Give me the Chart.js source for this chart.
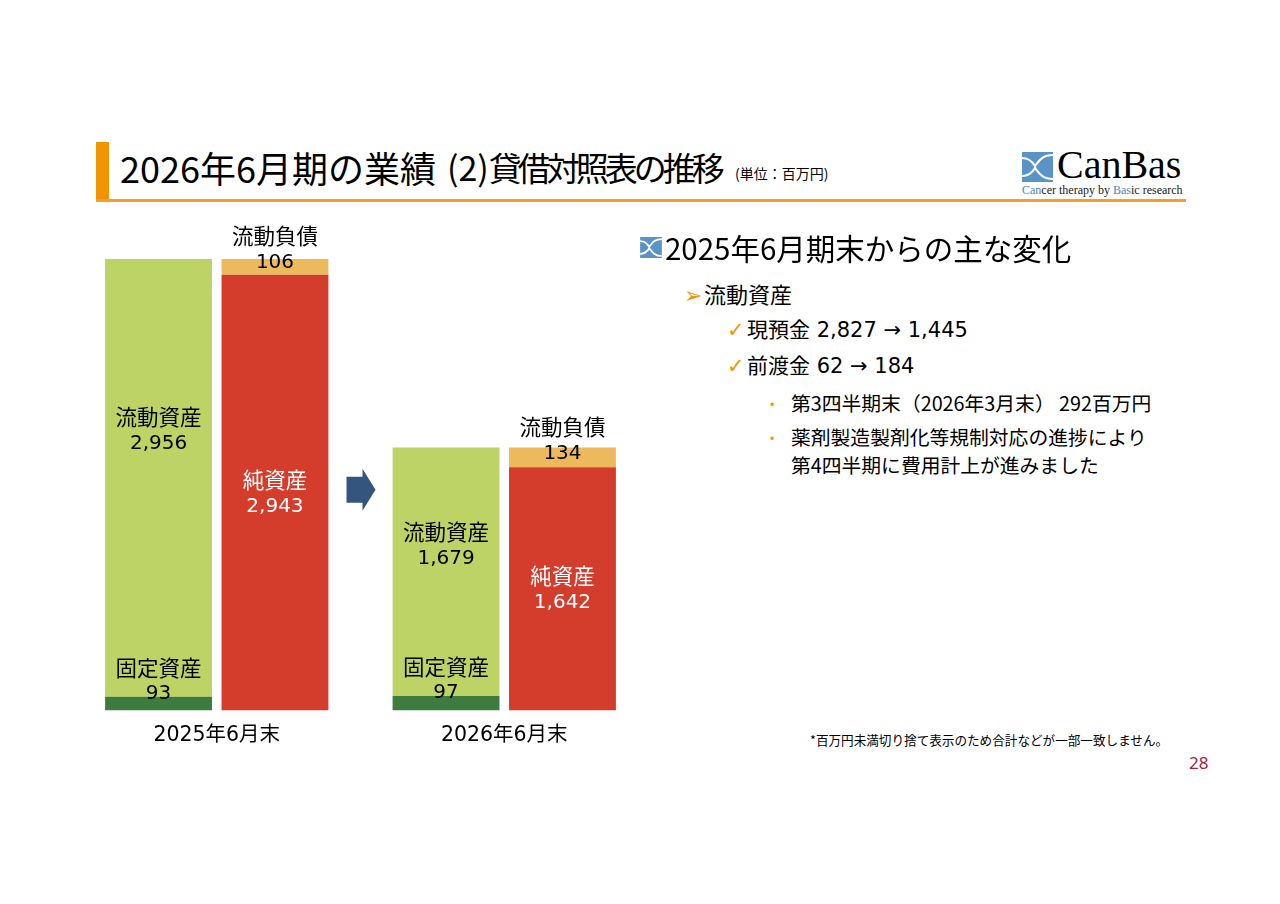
<!DOCTYPE html>
<html lang="ja">
<head>
<meta charset="utf-8">
<title>貸借対照表の推移</title>
<script src="https://cdn.jsdelivr.net/npm/chart.js@4.4.1/dist/chart.umd.min.js"></script>
<style>
  html, body { margin: 0; padding: 0; background: #fff; }
  body { width: 1280px; height: 904px; position: relative; overflow: hidden;
         font-family: "Noto Sans CJK JP", "DejaVu Sans", sans-serif; color: #000; }
  .abs { position: absolute; white-space: nowrap; }
  #titleBar { left: 96px; top: 142px; width: 13px; height: 59px; background: #f29400; }
  #titleLine { left: 96px; top: 199px; width: 1090px; height: 3px; background: #f0a030; }
  .ttl { top: 139px; font-size: 35px; line-height: 56px; }
  #title1 { left: 120px; font-size: 36px; letter-spacing: 0px; }
  #title2 { left: 447px; font-size: 34px; }
  #title2 .kj { font-size: 33px; letter-spacing: -4px; }
  #unit { left: 735px; top: 163px; font-size: 14px; line-height: 20px; }
  #logoText { left: 1057px; top: 143px; font-family: "Liberation Serif", "DejaVu Serif", serif; font-size: 40px; line-height: 44px; }
  #logoSub { left: 1022px; top: 183px; font-family: "Liberation Serif", "DejaVu Serif", serif; font-size: 12px; line-height: 14px; color: #222; }
  #logoSub b { font-weight: normal; color: #4a86c0; }
  #chartBox { left: 0px; top: 200px; width: 680px; height: 580px; }
  .txt { font-family: "DejaVu Sans", "Noto Sans CJK JP", sans-serif; }
  #h2 { left: 665px; top: 226px; font-size: 29.5px; line-height: 42px; font-family: "Noto Sans CJK JP", sans-serif; }
  #l1 { left: 684px; top: 277px; font-size: 22px; line-height: 32px; font-family: "Noto Sans CJK JP", sans-serif; }
  #l2 { left: 727px; top: 315px; font-size: 21px; line-height: 30px; }
  #l3 { left: 727px; top: 351px; font-size: 21px; line-height: 30px; }
  #l4 { left: 770px; top: 389px; font-size: 19.8px; line-height: 28px; font-family: "Noto Sans CJK JP", sans-serif; }
  #l5 { left: 770px; top: 423px; font-size: 19.8px; line-height: 28px; font-family: "Noto Sans CJK JP", sans-serif; }
  .mk { color: #f29400; display: inline-block; width: 20px; }
  .dot { color: #f29400; display: inline-block; width: 21px; font-size: 13px; vertical-align: 3px; }
  #note { left: 810px; top: 731px; font-size: 12.6px; line-height: 18px; font-family: "Noto Sans CJK JP", sans-serif; }
  #page { left: 1189px; top: 751px; font-size: 17px; line-height: 24px; color: #a3213d; font-family: "Noto Sans", sans-serif; }
</style>
</head>
<body>
<div class="abs" id="titleBar"></div>
<div class="abs" id="titleLine"></div>
<div class="abs ttl" id="title1">2026年6月期の業績</div>
<div class="abs ttl" id="title2">(2)<span class="kj">貸借対照表の推移</span></div>
<div class="abs" id="unit">(単位：百万円)</div>

<svg class="abs" style="left:1022px;top:152px" width="31" height="30" viewBox="0 0 31 30">
  <rect x="0" y="0" width="31" height="30" fill="#5a93c6"/>
  <path d="M31 3 C20 3 17 9 13 14 C10 9 6 6 0 6" stroke="#fff" stroke-width="2.2" fill="none"/>
  <path d="M31 27 C20 27 17 21 13 16 C10 21 6 24 0 24" stroke="#fff" stroke-width="2.2" fill="none"/>
</svg>
<div class="abs" id="logoText">CanBas</div>
<div class="abs" id="logoSub"><b>Can</b>cer therapy by <b>Bas</b>ic research</div>

<div class="abs" id="chartBox"><canvas id="bsChart"></canvas></div>

<svg class="abs" style="left:640px;top:237px" width="22" height="21" viewBox="0 0 31 30">
  <rect x="0" y="0" width="31" height="30" fill="#5a93c6"/>
  <path d="M31 3 C20 3 17 9 13 14 C10 9 6 6 0 6" stroke="#fff" stroke-width="2.6" fill="none"/>
  <path d="M31 27 C20 27 17 21 13 16 C10 21 6 24 0 24" stroke="#fff" stroke-width="2.6" fill="none"/>
</svg>
<div class="abs" id="h2">2025年6月期末からの主な変化</div>
<div class="abs" id="l1"><span class="mk">➢</span>流動資産</div>
<div class="abs txt" id="l2"><span class="mk">✓</span>現預金 2,827 → 1,445</div>
<div class="abs txt" id="l3"><span class="mk">✓</span>前渡金 62 → 184</div>
<div class="abs" id="l4"><span class="dot">•</span>第3四半期末（2026年3月末） 292百万円</div>
<div class="abs" id="l5"><span class="dot">•</span>薬剤製造製剤化等規制対応の進捗により<br><span style="display:inline-block;width:21px"></span>第4四半期に費用計上が進みました</div>

<div class="abs" id="note">*百万円未満切り捨て表示のため合計などが一部一致しません。</div>
<div class="abs" id="page">28</div>

<script>
// Data (百万円)
const periods = ['2025年6月末', '2026年6月末'];
const fixedAssets = [93, 97];
const currentAssets = [2956, 1679];
const netAssets = [2943, 1642];
const currentLiabilities = [106, 134];

const nameFont = '21.5px "Noto Sans CJK JP", sans-serif';
const numFont = '20px "DejaVu Sans", sans-serif';

// Draw segment labels and the arrow between the two periods
const segmentLabels = {
    id: 'segmentLabels',
    afterDatasetsDraw(chart) {
        const ctx = chart.ctx;
        const x = chart.scales.x;
        const y = chart.scales.y;
        ctx.save();
        ctx.fillStyle = '#000';
        ctx.textAlign = 'center';
        ctx.textBaseline = 'middle';

        const fmt = v => v.toLocaleString('en-US');
        const pair = (name, value, px, py, gap) => {
            ctx.font = nameFont;
            ctx.fillText(name, px, py - gap);
            ctx.font = numFont;
            ctx.fillText(value, px, py);
        };

        periods.forEach((p, i) => {
            const fixedBar = chart.getDatasetMeta(0).data[i];
            const curBar = chart.getDatasetMeta(1).data[i];
            const netBar = chart.getDatasetMeta(2).data[i];
            const liabBar = chart.getDatasetMeta(3).data[i];

            // 固定資産 (thin segment, label sits above)
            const fy = (fixedBar.y + fixedBar.base) / 2;
            pair('固定資産', fmt(fixedAssets[i]), fixedBar.x, fy - 10, 26);

            // 流動資産
            const cy = curBar.y + (curBar.base - curBar.y) * 0.39;
            pair('流動資産', fmt(currentAssets[i]), curBar.x, cy + 14, 27);

            // 純資産 (white text)
            const ny = (netBar.y + netBar.base) / 2;
            ctx.fillStyle = '#fff';
            pair('純資産', fmt(netAssets[i]), netBar.x, ny + 14, 27);
            ctx.fillStyle = '#000';

            // 流動負債 (thin segment, title above the bar)
            const ly = (liabBar.y + liabBar.base) / 2;
            pair('流動負債', fmt(currentLiabilities[i]), liabBar.x, ly - 4, 27);
        });

        // arrow between periods
        const ax = (x.getPixelForValue(0) + x.getPixelForValue(1)) / 2;
        const ay = y.getPixelForValue(1490);
        ctx.fillStyle = '#34557d';
        ctx.beginPath();
        ctx.moveTo(ax - 14, ay - 13);
        ctx.lineTo(ax + 2, ay - 13);
        ctx.lineTo(ax + 2, ay - 21);
        ctx.lineTo(ax + 15, ay);
        ctx.lineTo(ax + 2, ay + 21);
        ctx.lineTo(ax + 2, ay + 13);
        ctx.lineTo(ax - 14, ay + 13);
        ctx.closePath();
        ctx.fill();
        ctx.restore();
    }
};

new Chart(document.getElementById('bsChart'), {
    type: 'bar',
    data: {
        labels: periods,
        datasets: [
            { label: '固定資産', data: fixedAssets, stack: 'assets', backgroundColor: '#3e7b3f' },
            { label: '流動資産', data: currentAssets, stack: 'assets', backgroundColor: '#bdd366' },
            { label: '純資産', data: netAssets, stack: 'liab', backgroundColor: '#d43c2c' },
            { label: '流動負債', data: currentLiabilities, stack: 'liab', backgroundColor: '#ecb95c' }
        ]
    },
    options: {
        responsive: true,
        maintainAspectRatio: false,
        animation: false,
        categoryPercentage: 0.81,
        barPercentage: 0.918,
        layout: { padding: { left: 73, right: 32, top: 10, bottom: 27 } },
        plugins: {
            legend: { display: false },
            tooltip: { enabled: false }
        },
        scales: {
            x: {
                stacked: true,
                grid: { display: false },
                border: { display: false },
                ticks: {
                    color: '#000',
                    padding: 5,
                    font: { size: 20.5, family: '"DejaVu Sans", "Noto Sans CJK JP", sans-serif' }
                }
            },
            y: {
                stacked: true,
                display: false,
                min: 0,
                max: 3380
            }
        }
    },
    plugins: [segmentLabels]
});
</script>
</body>
</html>
